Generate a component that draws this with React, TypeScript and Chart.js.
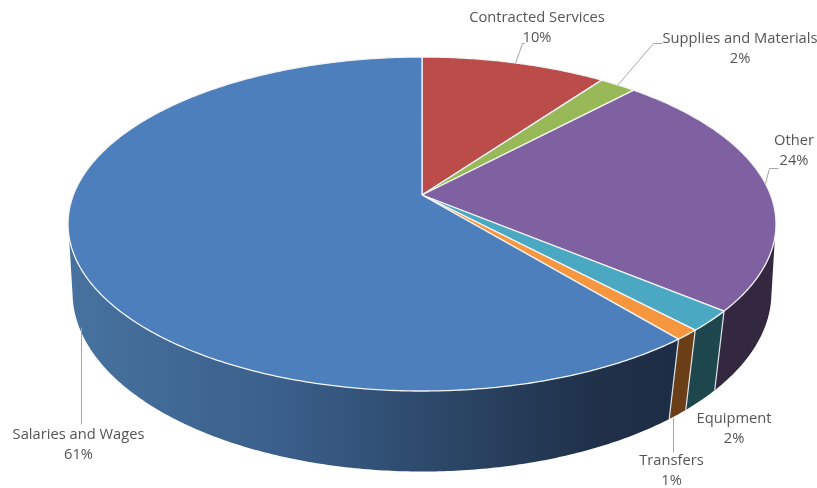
import React, { useEffect, useRef } from "react";
import { Chart, ArcElement, PieController, registerables } from "chart.js";

// Budget shares, clockwise from twelve o'clock
const categories = ["Contracted Services", "Supplies and Materials", "Other", "Equipment", "Transfers", "Salaries and Wages"];
const shares = [10, 2, 24, 2, 1, 61];
const topColors = ["#bc4c49", "#99b958", "#7f60a0", "#4aa8c2", "#f6963f", "#4c7fbb"];
const wallColors = ["#6f2d2b", "#5b6e34", "#33283f", "#1e474d", "#6a3f18", "#1c2d45"];
const salaryWallStops: [number, string][] = [[0, "#47729f"], [0.35, "#3a5f8a"], [0.55, "#2f4d70"], [0.88, "#1f3048"], [1, "#1c2d45"]];

// Where each caption is centred, and the bent leader running to it
const captionCentres = [[537, 18], [740, 39], [794, 141], [734, 419], [671.5, 461], [78.5, 435]];
const captionLeaders = [
  [[515, 63], [522, 43], [524, 43]],
  [[617, 85], [653, 43], [662, 43]],
  [[765, 183], [769, 168], [778, 168]],
  [],
  [[673, 417], [673, 452]],
  [[81, 327], [81, 424]],
];

const CENTRE_X = 422;

// Perspective mapping of a flat disc angle onto the top face and the lower rim
type Ring = { radius: number; base: number; span: number; tilt: number };
const TOP_RING: Ring = { radius: 348.6, base: 195, span: 128.1, tilt: -0.1737 };
const LOW_RING: Ring = { radius: 346, base: 267.5, span: 138, tilt: -0.14 };

// The wall only faces the viewer between these chart angles (radians from 3 o'clock)
const WALL_FROM = (9 * Math.PI) / 180;
const WALL_TO = (171 * Math.PI) / 180;

function project(angle: number, ring: Ring) {
  const theta = angle + Math.PI / 2;
  const t = -Math.cos(theta);
  const w = 1 + ring.tilt * t;
  return { x: CENTRE_X + (ring.radius * Math.sin(theta)) / w, y: (ring.base + ring.span * t) / w };
}

function traceRim(ctx: CanvasRenderingContext2D, from: number, to: number, ring: Ring, join: boolean) {
  const steps = Math.max(2, Math.ceil(Math.abs(to - from) / 0.01));
  for (let i = 0; i <= steps; i++) {
    const p = project(from + ((to - from) * i) / steps, ring);
    if (i === 0 && !join) ctx.moveTo(p.x, p.y);
    else ctx.lineTo(p.x, p.y);
  }
}

class TiltedArc extends ArcElement {
  static id = "tiltedArc";
  draw(ctx: CanvasRenderingContext2D) {
    const self = this as any;
    ctx.save();
    ctx.beginPath();
    ctx.moveTo(CENTRE_X, TOP_RING.base);
    traceRim(ctx, self.startAngle, self.endAngle, TOP_RING, true);
    ctx.closePath();
    ctx.fillStyle = self.options.backgroundColor;
    ctx.fill();
    ctx.strokeStyle = self.options.borderColor;
    ctx.lineWidth = self.options.borderWidth;
    ctx.lineJoin = "round";
    ctx.stroke();
    ctx.restore();
  }
}

class TiltedPieController extends PieController {
  static id = "tiltedPie";
  static defaults = { dataElementType: "tiltedArc" };
}

// Side wall of the disc, painted underneath the top face
const wallPlugin = {
  id: "discWall",
  beforeDatasetsDraw(chart: Chart) {
    const ctx = chart.ctx;
    const arcs = chart.getDatasetMeta(0).data as any[];
    arcs.forEach((arc, i) => {
      const from = Math.max(arc.startAngle, WALL_FROM);
      const to = Math.min(arc.endAngle, WALL_TO);
      if (to <= from) return;
      let fill: string | CanvasGradient = wallColors[i];
      if (i === arcs.length - 1) {
        const g = ctx.createLinearGradient(70, 0, 672, 0);
        salaryWallStops.forEach(([at, c]) => g.addColorStop(at, c));
        fill = g;
      }
      ctx.save();
      ctx.beginPath();
      traceRim(ctx, from, to, TOP_RING, false);
      traceRim(ctx, to, from, LOW_RING, true);
      ctx.closePath();
      ctx.fillStyle = fill;
      ctx.fill();
      ctx.restore();
    });
    // Thin seams between neighbouring walls
    arcs.forEach((arc) => {
      if (arc.startAngle <= WALL_FROM || arc.startAngle >= WALL_TO) return;
      const a = project(arc.startAngle, TOP_RING);
      const b = project(arc.startAngle, LOW_RING);
      ctx.save();
      ctx.beginPath();
      ctx.moveTo(a.x, a.y);
      ctx.lineTo(b.x, b.y);
      ctx.strokeStyle = "#dfe2e5";
      ctx.lineWidth = 1.2;
      ctx.stroke();
      ctx.restore();
    });
  },
};

// Category name and percentage for every slice, with their leaders
const captionPlugin = {
  id: "sliceCaptions",
  afterDatasetsDraw(chart: Chart) {
    const ctx = chart.ctx;
    ctx.save();
    ctx.strokeStyle = "#a6a6a6";
    ctx.lineWidth = 1;
    captionLeaders.forEach((path) => {
      if (!path.length) return;
      ctx.beginPath();
      path.forEach(([x, y], k) => (k ? ctx.lineTo(x + 0.5, y + 0.5) : ctx.moveTo(x + 0.5, y + 0.5)));
      ctx.stroke();
    });
    ctx.fillStyle = "#555555";
    ctx.textAlign = "center";
    ctx.textBaseline = "middle";
    ctx.font = '14.7px "Open Sans"';
    categories.forEach((name, i) => {
      const [x, y] = captionCentres[i];
      ctx.fillText(name, x, y);
      ctx.fillText(`${shares[i]}%`, x, y + 20);
    });
    ctx.restore();
  },
};

Chart.register(...registerables, TiltedArc, TiltedPieController);

export default function App() {
  const ref = useRef<HTMLCanvasElement>(null);
  useEffect(() => {
    document.body.style.margin = "0";
    const chart = new Chart(ref.current!, {
      type: "tiltedPie" as any,
      data: {
        labels: categories,
        datasets: [{ data: shares, backgroundColor: topColors, borderColor: "#f2f4f6", borderWidth: 1.3 }],
      },
      options: {
        responsive: false,
        animation: false,
        plugins: { legend: { display: false }, tooltip: { enabled: false } },
      },
      plugins: [wallPlugin, captionPlugin],
    });
    return () => chart.destroy();
  }, []);
  return <canvas ref={ref} width={817} height={488} style={{ display: "block" }} />;
}
